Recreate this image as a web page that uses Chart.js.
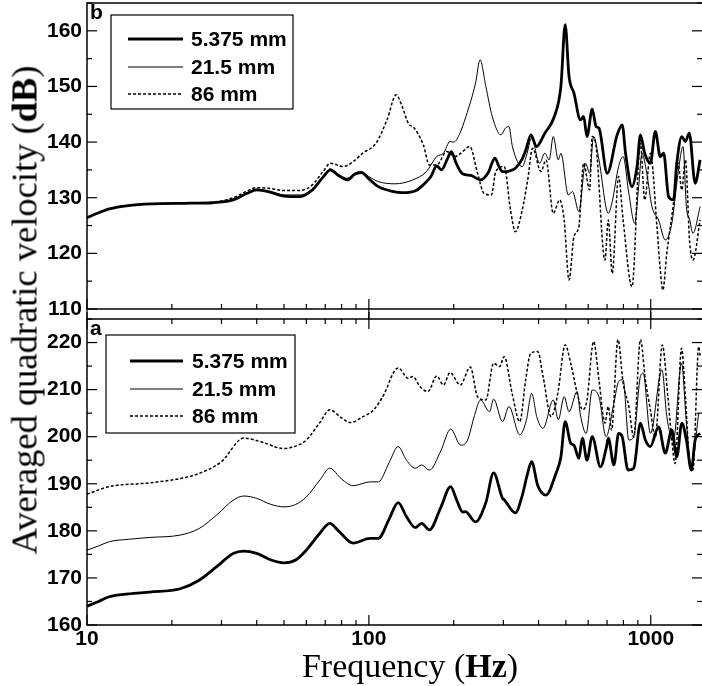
<!DOCTYPE html>
<html>
<head>
<meta charset="utf-8">
<script src="https://cdn.jsdelivr.net/npm/chart.js@4.4.1/dist/chart.umd.min.js"></script>
<style>
  html, body { margin: 0; padding: 0; background: #fff; overflow: hidden; }
  #wrap { position: relative; width: 702px; height: 686px; }
  .panel { position: absolute; left: 0; }
  #ytitle {
    position: absolute; left: 24px; top: 310px;
    transform: translate(-50%, -50%) rotate(-90deg);
    font-family: "Liberation Serif", "Times New Roman", serif;
    font-size: 36.5px; white-space: nowrap; color: #000;
  }
  #xtitle {
    position: absolute; left: 410px; top: 666px;
    transform: translate(-50%, -50%);
    font-family: "Liberation Serif", "Times New Roman", serif;
    font-size: 34px; white-space: nowrap; color: #000;
  }
</style>
</head>
<body>
<div id="wrap">
  <canvas id="bottom" class="panel" style="top:312px" width="702" height="374"></canvas>
  <canvas id="top" class="panel" style="top:0" width="702" height="322"></canvas>
  <div id="ytitle">Averaged quadratic velocity (<b>dB</b>)</div>
  <div id="xtitle">Frequency (<b>Hz</b>)</div>
</div>
<script>
// Series labels
const labels = ['5.375 mm', '21.5 mm', '86 mm'];

// Panel b (top)
const bThickHz = [10, 11, 12, 14, 17, 22, 28, 33, 37, 40, 44, 50, 57, 63, 69, 73, 78, 84, 89, 94, 100, 108, 120, 132, 147, 158, 166, 174, 181, 190, 196, 204, 215, 230, 249, 265, 280, 290, 298, 315, 331, 350, 360, 376, 393, 421, 455, 480, 497, 513, 534, 563, 578, 594, 620, 640, 655, 701, 760, 792, 814, 858, 894, 919, 952, 997, 1038, 1081, 1111, 1157, 1204, 1237, 1289, 1327, 1370, 1437, 1497];
const bThickDb = [126.4, 127.3, 128.0, 128.6, 128.9, 129.0, 129.1, 129.6, 130.8, 131.4, 131.1, 130.3, 130.2, 131.4, 133.8, 135.0, 134.0, 133.2, 134.2, 134.5, 133.4, 132.0, 131.2, 130.9, 131.3, 132.6, 133.8, 135.7, 135.0, 137.0, 138.3, 136.2, 134.3, 134.0, 133.2, 134.5, 137.1, 135.5, 134.7, 134.8, 135.3, 137.0, 138.5, 141.3, 139.2, 141.6, 144.6, 150.0, 161.1, 151.8, 148.8, 144.0, 144.6, 141.0, 145.9, 142.8, 142.5, 134.4, 141.3, 143.1, 138.0, 132.0, 135.6, 141.3, 138.0, 136.2, 141.9, 137.4, 138.0, 130.2, 129.6, 136.2, 141.0, 140.1, 141.6, 132.6, 136.8];

const bThinHz = [10, 11, 12, 14, 17, 22, 28, 33, 37, 40, 44, 50, 57, 63, 69, 73, 78, 84, 89, 94, 100, 108, 124, 143, 160, 174, 184, 194, 200, 210, 221, 239, 248, 260, 274, 294, 305, 314, 323, 350, 362, 378, 403, 421, 436, 451, 470, 480, 510, 528, 556, 587, 607, 627, 655, 707, 730, 769, 798, 836, 877, 906, 931, 968, 1010, 1066, 1126, 1188, 1250, 1302, 1338, 1375, 1412, 1497];
const bThinDb = [126.4, 127.3, 128.0, 128.6, 128.9, 129.0, 129.1, 129.7, 130.9, 131.5, 131.2, 130.5, 130.5, 131.6, 133.9, 135.2, 134.2, 133.5, 134.4, 134.7, 133.8, 132.9, 132.5, 133.2, 134.7, 137.4, 138.0, 140.1, 140.0, 141.5, 144.6, 150.6, 154.8, 150.0, 144.6, 141.3, 142.5, 142.8, 139.2, 135.6, 137.5, 140.7, 136.2, 138.0, 136.8, 141.0, 136.8, 138.0, 130.5, 131.1, 127.5, 136.2, 134.4, 141.0, 136.8, 127.2, 129.3, 135.6, 137.4, 130.8, 125.4, 132.0, 138.0, 134.4, 128.4, 126.0, 122.4, 125.4, 134.4, 139.2, 128.4, 126.0, 123.6, 128.4];

const bDashHz = [10, 11, 12, 14, 17, 22, 28, 33, 37, 40, 44, 50, 57, 63, 69, 73, 81, 88, 95, 106, 116, 125, 131, 138, 145, 156, 164, 174, 189, 202, 212, 228, 243, 256, 272, 282, 302, 318, 331, 350, 366, 381, 408, 425, 451, 475, 493, 513, 534, 556, 578, 607, 620, 640, 688, 707, 730, 769, 798, 858, 919, 952, 997, 1052, 1081, 1104, 1140, 1204, 1250, 1289, 1327, 1375, 1412, 1497];
const bDashDb = [126.4, 127.3, 128.0, 128.6, 128.9, 129.0, 129.2, 130.0, 131.2, 131.8, 131.7, 131.3, 131.3, 132.3, 134.8, 136.2, 135.6, 136.5, 138.0, 139.8, 144.0, 148.5, 146.5, 143.4, 142.5, 139.5, 135.9, 135.9, 138.3, 137.4, 138.0, 139.2, 134.4, 130.8, 130.5, 134.7, 135.6, 127.8, 123.9, 127.8, 133.2, 138.9, 134.7, 136.8, 127.2, 129.6, 126.0, 115.2, 123.0, 124.8, 136.2, 131.4, 141.0, 139.2, 118.8, 126.0, 116.4, 133.8, 126.0, 114.0, 139.8, 129.6, 138.0, 124.8, 117.0, 113.4, 120.0, 129.0, 136.2, 131.4, 136.8, 121.8, 118.8, 126.0];

// Panel a (bottom)
const aThickHz = [10, 11, 12, 14, 16.7, 21.4, 25, 29, 33, 36, 40, 45, 50, 55, 60, 67, 72.7, 78, 88, 101, 108, 118, 127, 136, 146, 154, 164, 180, 195, 205, 215, 220, 239, 260, 277, 298, 302, 331, 350, 365, 378, 397, 425, 461, 480, 497, 520, 534, 556, 572, 594, 620, 663, 697, 707, 740, 769, 792, 831, 870, 919, 957, 997, 1066, 1126, 1188, 1237, 1289, 1338, 1393, 1437, 1497];
const aThickDb = [164.0, 165.0, 166.0, 166.6, 167.0, 167.7, 169.5, 172.5, 175.2, 175.7, 175.2, 173.8, 173.2, 173.8, 175.9, 179.5, 181.6, 180.0, 177.4, 178.4, 178.4, 182.5, 186.0, 183.0, 180.7, 181.6, 180.2, 185.0, 189.4, 186.5, 184.0, 184.1, 181.9, 186.0, 192.3, 186.9, 186.6, 183.8, 187.5, 192.0, 194.7, 189.7, 187.6, 192.2, 195.7, 203.2, 198.6, 198.2, 195.4, 199.7, 195.0, 200.0, 193.6, 197.9, 199.7, 194.0, 200.7, 200.0, 192.9, 193.3, 202.9, 199.3, 197.9, 202.1, 196.5, 201.4, 195.7, 202.9, 199.3, 192.9, 199.3, 200.7];

const aThinHz = [10, 11, 12, 14, 16.7, 21.4, 25, 29, 33, 36, 40, 45, 50, 55, 60, 67, 72.7, 80, 88, 101, 108, 118, 127, 136, 146, 154, 164, 180, 195, 212, 224, 237, 249, 268, 277, 298, 314, 343, 362, 378, 395, 415, 451, 470, 493, 513, 548, 563, 590, 620, 655, 694, 740, 769, 798, 836, 870, 919, 940, 997, 1096, 1140, 1204, 1286, 1338, 1393, 1480];
const aThinDb = [175.9, 176.8, 177.7, 178.2, 178.6, 179.1, 180.5, 183.5, 186.5, 187.4, 186.9, 185.6, 185.1, 185.6, 187.2, 190.8, 193.3, 191.0, 189.6, 190.4, 190.4, 194.5, 197.9, 195.0, 193.3, 194.0, 192.9, 197.0, 201.6, 198.2, 199.3, 204.5, 207.8, 205.3, 208.0, 203.2, 206.4, 200.4, 203.5, 209.2, 204.0, 201.8, 207.8, 203.6, 208.5, 205.3, 209.6, 204.6, 200.7, 209.9, 208.5, 200.0, 207.1, 211.7, 212.1, 199.3, 199.9, 212.8, 213.5, 200.7, 214.2, 204.3, 199.3, 215.6, 202.9, 193.6, 205.0];

const aDashHz = [10, 12, 16.7, 21.4, 25, 30, 36, 42, 49.6, 55, 60, 67, 72.7, 80, 86, 95, 104, 112, 127, 138, 143, 152, 162, 174, 184, 194, 211, 229, 243, 260, 277, 291, 302, 323, 343, 360, 375, 397, 415, 443, 455, 470, 497, 520, 552, 574, 594, 627, 655, 688, 707, 726, 765, 798, 836, 870, 919, 957, 997, 1038, 1099, 1150, 1188, 1220, 1286, 1327, 1375, 1412, 1480, 1497];
const aDashDb = [187.8, 189.4, 190.2, 191.1, 192.2, 194.7, 199.7, 198.8, 197.5, 198.0, 199.3, 203.0, 205.7, 204.0, 203.0, 204.2, 205.7, 208.5, 214.6, 212.4, 212.8, 210.6, 209.6, 212.9, 211.0, 213.6, 211.0, 214.8, 208.5, 207.8, 215.6, 214.9, 217.0, 208.9, 203.2, 212.1, 217.7, 218.1, 212.8, 204.3, 205.7, 209.9, 219.5, 215.6, 208.5, 205.7, 207.8, 220.2, 212.1, 202.9, 206.4, 201.4, 220.6, 211.4, 206.4, 199.9, 220.6, 212.1, 205.7, 199.9, 219.5, 208.5, 199.3, 194.3, 218.8, 208.5, 194.3, 192.9, 219.1, 217.2];

const xMin = 10, xMax = 1520;
const bRange = [110, 165];
const aRange = [160, 225];

const sansBold = { family: '"Liberation Sans", Arial, sans-serif', size: 21, weight: 'bold' };

const styles = [
  { borderWidth: 2.8, borderDash: [] },
  { borderWidth: 1, borderDash: [] },
  { borderWidth: 1.5, borderDash: [3, 2] },
];

function pts(hz, db) {
  return hz.map((f, i) => ({ x: f, y: db[i] }));
}

function makeSets(series) {
  return series.map((s, i) => ({
    label: labels[i],
    data: pts(s[0], s[1]),
    borderColor: '#000',
    borderWidth: styles[i].borderWidth,
    borderDash: styles[i].borderDash,
    pointRadius: 0,
    cubicInterpolationMode: 'monotone',
    fill: false,
  }));
}

// no label overhang padding, the frame sits where we put it
function noPad(s) {
  s.paddingTop = 0;
  s.paddingBottom = 0;
  s.paddingLeft = 0;
  s.paddingRight = 0;
}

// Frame, inward ticks, panel letter and boxed legend
const decor = {
  id: 'decor',
  afterDraw(chart, args, o) {
    const { ctx, chartArea: a, scales } = chart;
    const x = scales.x, y = scales.y;
    const seg = (x1, y1, x2, y2) => { ctx.beginPath(); ctx.moveTo(x1, y1); ctx.lineTo(x2, y2); ctx.stroke(); };
    ctx.save();
    ctx.strokeStyle = '#000';
    ctx.lineWidth = 1.5;
    ctx.beginPath();
    ctx.moveTo(a.right + 2, a.top);
    ctx.lineTo(a.left, a.top);
    ctx.lineTo(a.left, a.bottom);
    ctx.lineTo(a.right + 2, a.bottom);
    ctx.stroke();

    ctx.lineWidth = 1.2;
    for (let v = Math.ceil(y.min / 5) * 5; v <= y.max; v += 5) {
      const py = y.getPixelForValue(v);
      const len = v % 10 === 0 ? 10 : 5;
      seg(a.left, py, a.left + len, py);
      seg(a.right, py, a.right - len, py);
    }
    [10, 100, 1000].forEach(d => {
      for (let m = 1; m <= 9; m++) {
        const f = d * m;
        if (f < x.min || f > x.max) continue;
        const px = x.getPixelForValue(f);
        const major = m === 1;
        const len = major ? 10 : 5;
        seg(px, a.bottom + (major ? o.outBottom : 0), px, a.bottom - len);
        if (o.topTicks) seg(px, a.top - (major ? o.outTop : 0), px, a.top + len);
      }
    });

    ctx.fillStyle = '#000';
    ctx.font = 'bold 21px "Liberation Sans", Arial, sans-serif';
    ctx.textBaseline = 'top';
    ctx.textAlign = 'left';
    ctx.fillText(o.letter, a.left + 3, a.top);

    const L = o.legend;
    const bx = a.left + L.dx, by = a.top + L.dy;
    ctx.lineWidth = 1.2;
    ctx.strokeRect(bx, by, L.w, L.h);
    ctx.textBaseline = 'middle';
    chart.data.datasets.forEach((ds, i) => {
      const ry = by + L.rows[i];
      ctx.lineWidth = ds.borderWidth;
      ctx.setLineDash(ds.borderDash);
      seg(bx + L.l1, ry, bx + L.l2, ry);
      ctx.setLineDash([]);
      ctx.fillText(ds.label, bx + L.tx, ry + 1);
    });
    ctx.restore();
  }
};

function makeChart(id, series, range, o) {
  return new Chart(document.getElementById(id), {
    type: 'line',
    data: { datasets: makeSets(series) },
    options: {
      responsive: false,
      animation: false,
      events: [],
      layout: { padding: { top: o.padTop, right: 0, bottom: o.padBottom, left: 0 } },
      plugins: {
        legend: { display: false },
        tooltip: { enabled: false },
        decor: o.decor,
      },
      scales: {
        x: {
          type: 'logarithmic',
          min: xMin,
          max: xMax,
          grid: { display: false, drawTicks: false },
          border: { display: false },
          ticks: {
            display: o.xLabels,
            autoSkip: false,
            maxRotation: 0,
            padding: 2,
            color: '#000',
            font: sansBold,
            callback: v => ([10, 100, 1000].includes(v) ? String(v) : ''),
          },
          afterFit: s => { s.height = o.xHeight; noPad(s); },
        },
        y: {
          min: range[0],
          max: range[1],
          grid: { display: false, drawTicks: false },
          border: { display: false },
          ticks: { stepSize: 10, includeBounds: false, padding: 5, color: '#000', font: sansBold },
          afterFit: s => { s.width = 87; noPad(s); },
        },
      },
    },
    plugins: [decor],
  });
}

makeChart('top', [[bThickHz, bThickDb], [bThinHz, bThinDb], [bDashHz, bDashDb]], bRange, {
  padTop: 3, padBottom: 13, xLabels: false, xHeight: 0,
  decor: {
    letter: 'b', topTicks: false, outBottom: 10, outTop: 0,
    legend: { dx: 24, dy: 12, w: 182, h: 94, rows: [24, 52, 79], l1: 17, l2: 72, tx: 80 },
  },
});

makeChart('bottom', [[aThickHz, aThickDb], [aThinHz, aThinDb], [aDashHz, aDashDb]], aRange, {
  padTop: 7, padBottom: 0, xLabels: true, xHeight: 61,
  decor: {
    letter: 'a', topTicks: true, outBottom: 0, outTop: 7,
    legend: { dx: 19, dy: 16, w: 189, h: 98, rows: [26, 54, 81], l1: 24, l2: 77, tx: 86 },
  },
});
</script>
</body>
</html>
